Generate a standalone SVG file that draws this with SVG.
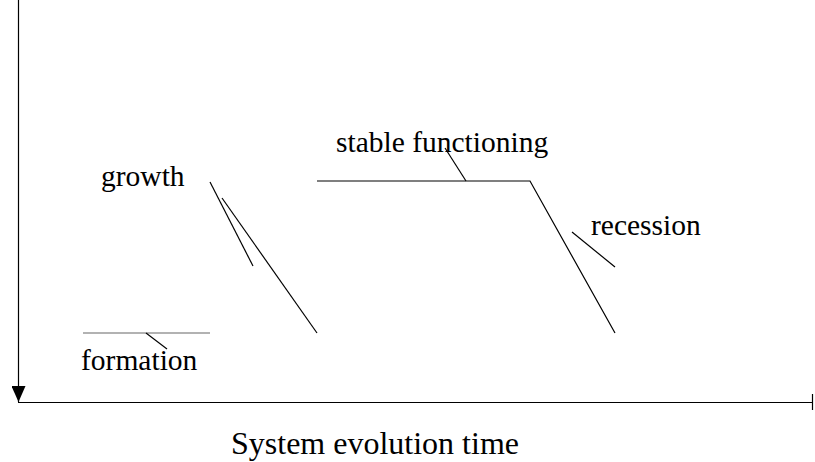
<svg xmlns="http://www.w3.org/2000/svg" width="815" height="462" viewBox="0 0 815 462">
<style>
text{font-family:"Liberation Serif","Times New Roman",serif;font-size:29.5px;fill:#000}
.ln{stroke:#000;stroke-width:1.2;fill:none}
.gr{stroke:#999;stroke-width:1.4;fill:none}
</style>
<defs>
<marker id="ah" markerWidth="14" markerHeight="16" refX="7" refY="16" orient="0" markerUnits="userSpaceOnUse">
<path d="M0,0 L14,0 L7,16 Z" fill="#000"/>
</marker>
</defs>
<rect width="815" height="462" fill="#fff"/>
<g id="connectors">
<line class="ln" x1="18.5" y1="0" x2="18.5" y2="402" stroke-width="1.6" marker-end="url(#ah)"/>
<line class="ln" x1="18" y1="402.5" x2="812" y2="402.5" stroke-width="1.6"/>
<line class="ln" x1="812.5" y1="394" x2="812.5" y2="410" stroke-width="2.5"/>
<line class="gr" x1="83" y1="333" x2="210" y2="333"/>
<line class="ln" x1="146" y1="333" x2="167" y2="349"/>
<line class="ln" x1="210" y1="182" x2="253" y2="266"/>
<line class="ln" x1="222" y1="198" x2="317" y2="333"/>
<polyline class="ln" points="317,181 530,181 615,333" stroke="#444"/>
<line class="ln" x1="445" y1="148" x2="466" y2="181"/>
<line class="ln" x1="572" y1="232" x2="615" y2="267"/>
</g>
<g id="formation"><text x="81" y="370">formation</text></g>
<g id="growth"><text x="101" y="186">growth</text></g>
<g id="stable"><text x="336" y="152">stable functioning</text></g>
<g id="recession"><text x="591" y="235">recession</text></g>
<g id="xlabel"><text x="231" y="454" style="font-size:32px">System evolution time</text></g>
</svg>
